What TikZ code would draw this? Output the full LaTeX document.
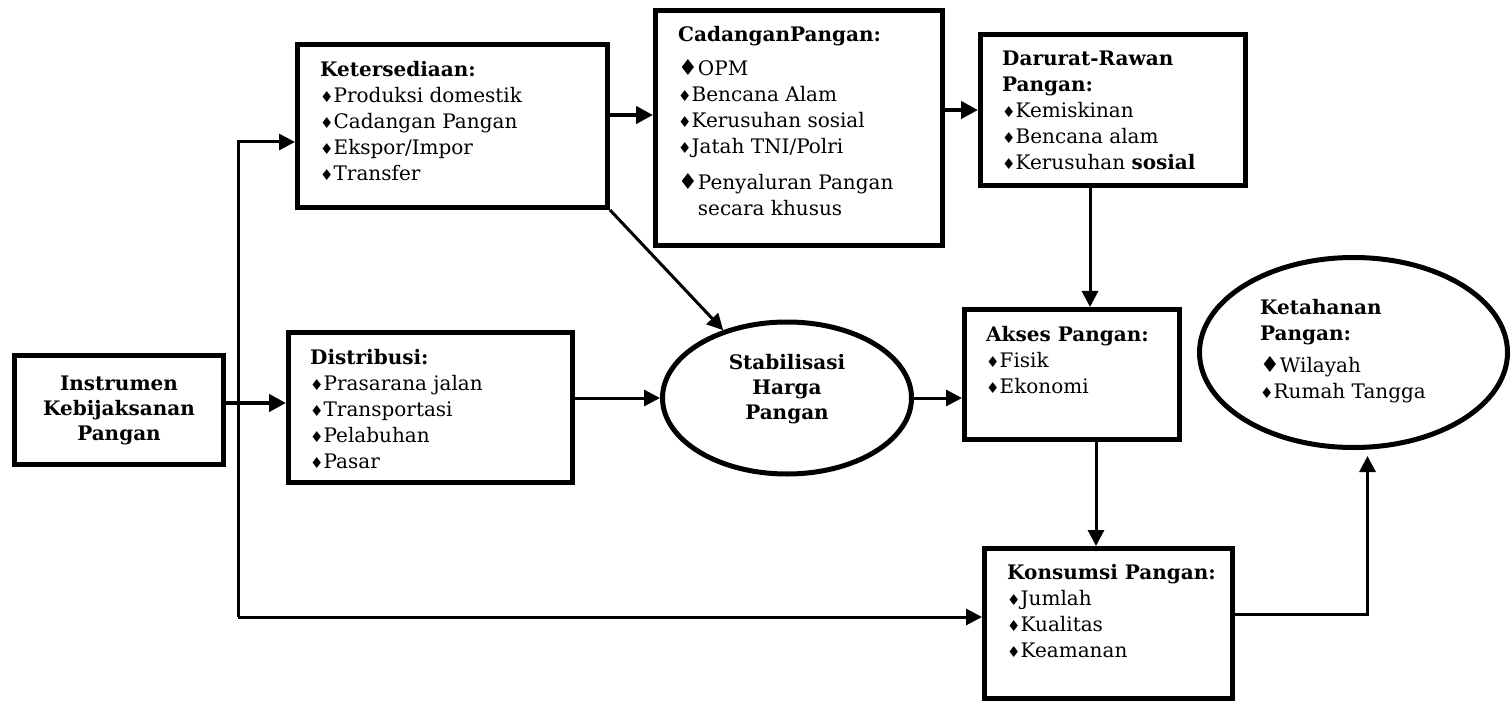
\documentclass[tikz,border=0pt]{standalone}
\usepackage{fontspec}
\setmainfont{DejaVu Serif}
\newfontfamily\diafont{DejaVu Sans}
\usetikzlibrary{arrows.meta}
\usetikzlibrary{shapes.geometric}
\usetikzlibrary{positioning}

\newcommand{\dm}{{\diafont\fontsize{15}{15}\selectfont ♦}}
\newcommand{\bdm}{{\diafont\fontsize{22}{22}\selectfont ♦}}

\tikzset{
  box/.style={draw, rectangle, line width=5pt, inner sep=0pt},
  oval/.style={draw, ellipse, line width=5pt, inner sep=0pt},
  txt/.style={inner sep=0pt, align=left, anchor=north west, font=\fontsize{20}{26}\selectfont},
  arr/.style={-{Triangle[length=16pt,width=16pt]}, line width=3pt},
  tharr/.style={-{Triangle[length=17pt,width=17pt]}, line width=4.5pt}
}

\begin{document}
\begin{tikzpicture}[x=1pt, y=-1pt]
\useasboundingbox (0,0) rectangle (1512,703);

% Boxes and ovals
\node[box, minimum width=209, minimum height=109, align=center,
      font=\fontsize{20}{25}\selectfont\bfseries] (instr) at (119,410) {Instrumen\\Kebijaksanan\\Pangan};
\node[box, minimum width=310, minimum height=163] (ket) at (452.5,126) {};
\node[box, minimum width=287, minimum height=235] (cad) at (799,128) {};
\node[box, minimum width=265, minimum height=151] (dar) at (1113,110) {};
\node[box, minimum width=284, minimum height=150] (dist) at (430.5,407.5) {};
\node[oval, minimum width=249, minimum height=152] (stab) at (787,398) {};
\node[box, minimum width=215, minimum height=130] (akses) at (1072,374.5) {};
\node[box, minimum width=248, minimum height=150] (kons) at (1108.5,623.5) {};
\node[oval, minimum width=308, minimum height=190] (ketah) at (1353.5,352.5) {};

% Texts
\node[txt] (ketT) at (320,61) {\textbf{Ketersediaan:}\\\dm Produksi domestik\\\dm Cadangan Pangan\\\dm Ekspor/Impor\\\dm Transfer};
\node[txt] (cadT) at (678,26) {\textbf{CadanganPangan:}\\[8pt]\bdm OPM\\\dm Bencana Alam\\\dm Kerusuhan sosial\\\dm Jatah TNI/Polri\\[10pt]\bdm Penyaluran Pangan\\\phantom{\bdm}secara khusus};
\node[txt] (darT) at (1002,51) {\textbf{Darurat-Rawan}\\\textbf{Pangan:}\\\dm Kemiskinan\\\dm Bencana alam\\\dm Kerusuhan \textbf{sosial}};
\node[txt] (distT) at (310,349) {\textbf{Distribusi:}\\\dm Prasarana jalan\\\dm Transportasi\\\dm Pelabuhan\\\dm Pasar};
\node[inner sep=0pt, align=center, font=\fontsize{20}{25}\selectfont\bfseries] (stabT) at (787,389) {Stabilisasi\\Harga\\Pangan};
\node[txt] (aksesT) at (986,326) {\textbf{Akses Pangan:}\\\dm Fisik\\\dm Ekonomi};
\node[txt] (konsT) at (1007,564) {\textbf{Konsumsi Pangan:}\\\dm Jumlah\\\dm Kualitas\\\dm Keamanan};
\node[txt] (ketahT) at (1260,299) {\textbf{Ketahanan}\\\textbf{Pangan:}\\[6pt]\bdm Wilayah\\\dm Rumah Tangga};

% Left bus line
\coordinate (busT) at (238,142);
\coordinate (busB) at (238,617);
\draw[arr] (busB) -- (busT) -- (busT -| ket.west);
\draw[arr] (busB) -- (busB -| kons.west);
\draw[tharr] ([yshift=7pt]instr.east) -- ([yshift=7pt]instr.east -| dist.west);

% Connections between boxes
\draw[tharr] ([yshift=11pt]ket.east) -- ([yshift=11pt]ket.east -| cad.west);
\draw[tharr] (cad.east |- dar.west) -- (dar.west);
\draw[arr] (ket.south east) -- (stab);
\draw[arr] (dist.east |- stab.west) -- (stab.west);
\draw[arr] (stab.east) -- (stab.east -| akses.west);
\draw[arr] ([xshift=-23pt]dar.south) -- ([xshift=-23pt]dar.south |- akses.north);
\draw[arr] ([xshift=24pt]akses.south) -- ([xshift=24pt]akses.south |- kons.north);
\draw[arr, shorten >=6pt] ([yshift=9.5pt]kons.east) -| ([xshift=14pt]ketah.south);

\end{tikzpicture}
\end{document}
